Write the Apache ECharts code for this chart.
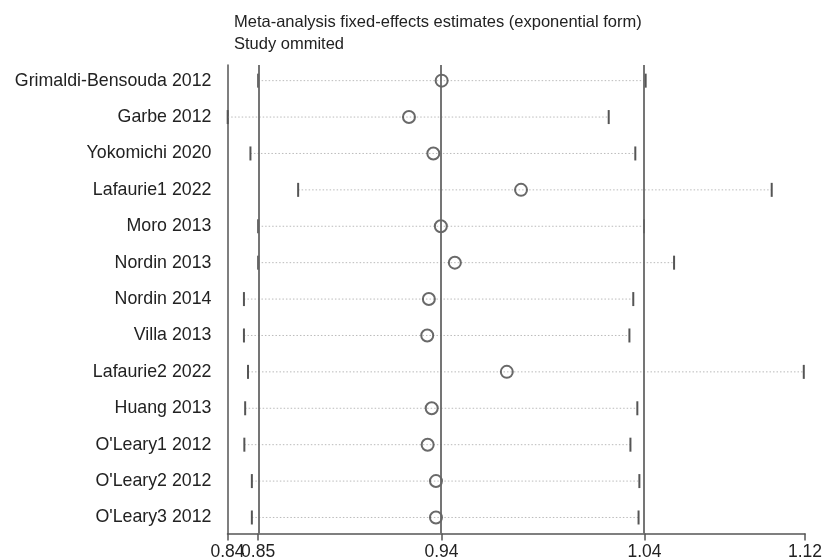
<!DOCTYPE html>
<html>
<head>
<meta charset="utf-8">
<script src="https://cdn.jsdelivr.net/npm/echarts@6/dist/echarts.min.js"></script>
<style>
  html, body { margin: 0; padding: 0; background: #fff; }
  #chart { width: 823px; height: 560px; }
</style>
</head>
<body>
<div id="chart"></div>
<script>
// studies, top to bottom
const studies = [
  'Grimaldi-Bensouda 2012', 'Garbe 2012', 'Yokomichi 2020', 'Lafaurie1 2022',
  'Moro 2013', 'Nordin 2013', 'Nordin 2014', 'Villa 2013', 'Lafaurie2 2022',
  'Huang 2013', "O'Leary1 2012", "O'Leary2 2012", "O'Leary3 2012"
]
const lower = [0.8499, 0.8349, 0.8461, 0.8696, 0.8499, 0.8499, 0.8429, 0.8429, 0.8449, 0.8435, 0.8431, 0.8468, 0.8468]
const estimate = [0.9403, 0.9242, 0.9362, 0.9794, 0.9399, 0.9468, 0.9340, 0.9332, 0.9724, 0.9354, 0.9334, 0.9375, 0.9375]
const upper = [1.0408, 1.0226, 1.0357, 1.1029, 1.0400, 1.0548, 1.0347, 1.0328, 1.1187, 1.0367, 1.0333, 1.0377, 1.0373]

// overall estimate: lower CI, estimate, upper CI
const overall = [0.8499, 0.9402, 1.0402]

// x axis ticks (min, overall values, max)
const tickValues = [0.8348, 0.8499, 0.9402, 1.0402, 1.1193]
const tickLabels = ['0.84', '0.85', '0.94', '1.04', '1.12']

const rowIdx = studies.map((s, i) => i)

function tickLabel(v) {
  let best = 0
  tickValues.forEach((t, i) => { if (Math.abs(t - v) < Math.abs(tickValues[best] - v)) best = i })
  return tickLabels[best]
}

const labelFont = { fontFamily: 'Liberation Sans', fontSize: 17.5, color: '#222' }

const chart = echarts.init(document.getElementById('chart'))

chart.setOption({
  animation: false,
  title: {
    text: 'Meta-analysis fixed-effects estimates (exponential form)',
    subtext: 'Study ommited',
    left: 229,
    top: 9,
    itemGap: 5,
    textStyle: { fontFamily: 'Liberation Sans', fontSize: 16.5, fontWeight: 'normal', color: '#222' },
    subtextStyle: { fontFamily: 'Liberation Sans', fontSize: 16.5, color: '#222' }
  },
  grid: { left: 227.5, right: 18, top: 65, bottom: 26.5, outerBoundsMode: 'none', containLabel: false },
  xAxis: [
    {
      type: 'value',
      position: 'bottom',
      min: tickValues[0],
      max: tickValues[tickValues.length - 1],
      splitLine: { show: false },
      axisLine: { show: true, onZero: false, lineStyle: { color: '#555', width: 1.5 } },
      axisTick: { show: true, length: 7, customValues: tickValues, lineStyle: { color: '#555', width: 1.5 } },
      axisLabel: Object.assign({
        customValues: tickValues,
        showMinLabel: true,
        showMaxLabel: true,
        hideOverlap: false,
        margin: 10,
        formatter: tickLabel
      }, labelFont)
    },
    {
      // second copy of the axis only for the label that sits next to the min label
      type: 'value',
      position: 'bottom',
      offset: 0,
      min: tickValues[0],
      max: tickValues[tickValues.length - 1],
      splitLine: { show: false },
      axisLine: { show: false, onZero: false },
      axisTick: { show: true, length: 7, customValues: [tickValues[1]], lineStyle: { color: '#555', width: 1.5 } },
      axisLabel: Object.assign({
        customValues: [tickValues[1]],
        showMinLabel: false,
        showMaxLabel: false,
        margin: 10,
        formatter: tickLabel
      }, labelFont)
    }
  ],
  yAxis: {
    type: 'value',
    inverse: true,
    min: -0.43,
    max: 12.44,
    splitLine: { show: false },
    axisLine: { show: true, onZero: false, lineStyle: { color: '#555', width: 1.5 } },
    axisTick: { show: false },
    axisLabel: {
      customValues: rowIdx,
      margin: 16,
      fontFamily: 'Liberation Sans',
      fontSize: 17.8,
      color: '#222',
      formatter: function (v) { return studies[Math.round(v)] }
    }
  },
  series: [
    {
      // confidence intervals: dotted line with end ticks
      type: 'custom',
      data: studies.map((s, i) => [lower[i], upper[i], i]),
      encode: { x: [0, 1], y: 2 },
      renderItem: function (params, api) {
        const p0 = api.coord([api.value(0), api.value(2)])
        const p1 = api.coord([api.value(1), api.value(2)])
        const h = 7
        return {
          type: 'group',
          children: [
            {
              type: 'line',
              shape: { x1: p0[0], y1: p0[1], x2: p1[0], y2: p1[1] },
              style: { stroke: '#bbb', lineWidth: 1, lineDash: [1.5, 2] }
            },
            {
              type: 'line',
              shape: { x1: p0[0], y1: p0[1] - h, x2: p0[0], y2: p0[1] + h },
              style: { stroke: '#555', lineWidth: 2 }
            },
            {
              type: 'line',
              shape: { x1: p1[0], y1: p1[1] - h, x2: p1[0], y2: p1[1] + h },
              style: { stroke: '#555', lineWidth: 2 }
            }
          ]
        }
      },
      z: 2
    },
    {
      type: 'scatter',
      data: studies.map((s, i) => [estimate[i], i]),
      symbol: 'circle',
      symbolSize: 12,
      itemStyle: { color: 'transparent', borderColor: '#444', borderWidth: 2 },
      z: 4,
      markLine: {
        silent: true,
        symbol: 'none',
        label: { show: false },
        lineStyle: { color: '#666', width: 1.8, type: 'solid' },
        data: overall.map(v => ({ xAxis: v }))
      }
    }
  ]
})
</script>
</body>
</html>
